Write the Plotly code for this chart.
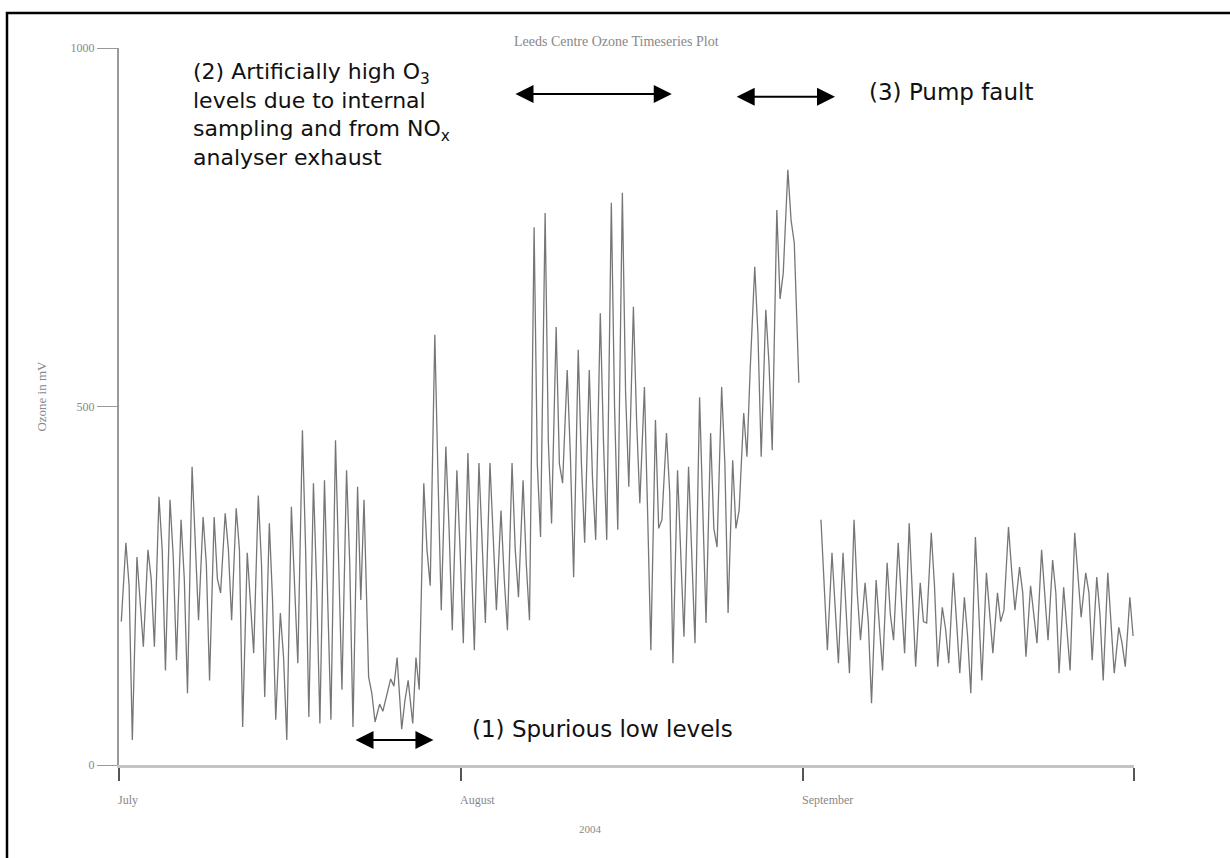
import pandas as pd
import plotly.graph_objects as go

# ---- data (ozone signal in mV, read at ~05:00, ~15:00 and ~22:00 each day, 1 Jul - 30 Sep 2004)
start_date = "2004-07-01"
ozone_am = [200, 35, 165, 165, 132, 146, 100, 202, 118, 240,
            202, 53, 156, 95, 63, 35, 142, 67, 58, 63,
            105, 53, 370, 60, 95, 150, 118, 105, 250, 216,
            188, 170, 160, 198, 216, 188, 234, 202, 318, 337,
            393, 262, 310, 314, 314, 328, 388, 365, 160, 342,
            142, 179, 170, 198, 304, 212, 355, 551, 430, 439,
            686, 728, None, None, 160, 142, 128, 174, 86, 132,
            174, 156, 137, 198, 137, 142, 128, 100, 118, 156,
            216, 216, 151, 170, 174, 128, 132, 206, 146, 118,
            128, 137]
ozone_pm = [310, 290, 300, 374, 370, 342, 416, 346, 346, 351,
            358, 296, 376, 337, 212, 360, 467, 393, 397, 453,
            411, 388, 123, 85, 120, 50, 58, 393, 600, 444,
            411, 435, 421, 421, 355, 421, 397, 750, 770, 611,
            551, 579, 551, 630, 784, 798, 639, 527, 481, 463,
            411, 416, 513, 463, 527, 425, 491, 695, 635, 774,
            830, 533, None, 342, 296, 296, 342, 254, 258, 282,
            310, 337, 254, 324, 220, 268, 234, 318, 268, 240,
            332, 276, 250, 300, 286, 248, 324, 268, 262, 268,
            192, 234]
ozone_night = [250, 230, 260, 300, 290, 260, 300, 280, 260, 300,
               300, 230, 280, 230, 150, 250, 300, 250, 230, 280,
               280, 230, 100, 75, 110, 90, 150, 300, 400, 330,
               300, 310, 300, 320, 260, 300, 280, 420, 450, 420,
               430, 420, 400, 450, 500, 520, 480, 350, 330, 380,
               300, 300, 350, 330, 420, 330, 430, 600, 560, 650,
               760, None, None, 250, 220, 220, 240, 200, 190, 210,
               230, 240, 200, 250, 190, 200, 180, 220, 210, 200,
               270, 240, 210, 240, 240, 190, 260, 240, 210, 200,
               170, 180]
reading_hours = [5, 15, 22]

month_ticks = ["2004-07-01", "2004-08-01", "2004-09-01", "2004-10-01"]
month_labels = ["July", "August", "September"]
y_ticks = [0, 500, 1000]

title_text = "Leeds Centre Ozone Timeseries Plot"
y_title = "Ozone in mV"
x_title = "2004"

# annotation texts with arrow spans (days from 1 July) and levels (mV)
note2 = ("(2) Artificially high O<sub>3</sub><br>levels due to internal<br>"
         "sampling and from NO<sub>x</sub><br>analyser exhaust")
note3 = "(3) Pump fault"
note1 = "(1) Spurious low levels"
arrow2_days = (35.8, 50.1)
arrow3_days = (55.85, 64.9)
arrow1_days = (21.3, 28.5)
arrow2_level = 936
arrow3_level = 932
arrow1_level = 35

# ---- build the time series
base = pd.Timestamp(start_date)
times, values = [], []
for d, readings in enumerate(zip(ozone_am, ozone_pm, ozone_night)):
    for h, v in zip(reading_hours, readings):
        times.append(base + pd.Timedelta(days=d, hours=h))
        values.append(v)


def day(x):
    return base + pd.Timedelta(days=x)


fig = go.Figure()
fig.add_trace(go.Scatter(x=times, y=values, mode="lines",
                         line=dict(color="#767676", width=1.3),
                         connectgaps=False, showlegend=False, hoverinfo="skip"))

serif = "Liberation Serif"
sans = "DejaVu Sans"

fig.update_layout(
    width=1230, height=858,
    margin=dict(l=119, r=96, t=48, b=93),
    paper_bgcolor="white", plot_bgcolor="white",
    showlegend=False,
    xaxis=dict(range=[pd.Timestamp(month_ticks[0]), pd.Timestamp(month_ticks[-1])],
               tickvals=[pd.Timestamp(t) for t in month_ticks], showticklabels=False,
               ticks="outside", ticklen=13, tickwidth=1.5, tickcolor="#555",
               showline=True, linecolor="#c4c4c4", linewidth=3,
               showgrid=False, zeroline=False),
    yaxis=dict(range=[0, 1000], tickvals=y_ticks,
               ticks="outside", ticklen=20, tickwidth=1.2, tickcolor="#999",
               tickfont=dict(family=serif, size=12, color="#888"),
               showline=True, linecolor="#999", linewidth=2,
               showgrid=False, zeroline=False),
)

ann = []
ann.append(dict(text=title_text, xref="paper", yref="paper", x=0.49, y=1.0084,
                xanchor="center", yanchor="middle", showarrow=False,
                font=dict(family=serif, size=14, color="#888")))
ann.append(dict(text=y_title, xref="paper", yref="paper", x=-0.076, y=0.515,
                xanchor="center", yanchor="middle", textangle=-90, showarrow=False,
                font=dict(family=serif, size=13, color="#888")))
ann.append(dict(text=x_title, xref="paper", yref="paper", x=0.465, y=0,
                yshift=-64, xanchor="center", yanchor="middle", showarrow=False,
                font=dict(family=serif, size=11, color="#888")))
for t, lab in zip(month_ticks, month_labels):
    ann.append(dict(text=lab, xref="x", yref="paper", x=pd.Timestamp(t), y=0,
                    yshift=-35, xshift=-3, xanchor="left", yanchor="middle", showarrow=False,
                    font=dict(family=serif, size=12, color="#888")))

# notes
ann.append(dict(text=note2, xref="x", yref="y", x=day(6.5), y=987,
                xanchor="left", yanchor="top", align="left", showarrow=False,
                font=dict(family=sans, size=22, color="#111")))
ann.append(dict(text=note3, xref="x", yref="y", x=day(67.8), y=939,
                xanchor="left", yanchor="middle", align="left", showarrow=False,
                font=dict(family=sans, size=23, color="#111")))
ann.append(dict(text=note1, xref="x", yref="y", x=day(31.8), y=50,
                xanchor="left", yanchor="middle", align="left", showarrow=False,
                font=dict(family=sans, size=23, color="#111")))

for (d0, d1), lvl in [(arrow2_days, arrow2_level), (arrow3_days, arrow3_level),
                      (arrow1_days, arrow1_level)]:
    ann.append(dict(x=day(d1), y=lvl, ax=day(d0), ay=lvl, xref="x", yref="y",
                    axref="x", ayref="y", text="", showarrow=True,
                    arrowhead=2, startarrowhead=2, arrowside="end+start",
                    arrowsize=1.8, startarrowsize=1.8, arrowwidth=2,
                    arrowcolor="black", standoff=0, startstandoff=0))

fig.update_layout(annotations=ann)

# outer frame
fig.add_shape(type="rect", xref="paper", yref="paper",
              x0=(7 - 119) / 1015, x1=1.15, y0=-0.2, y1=(765 - 13) / 717,
              line=dict(color="black", width=2.5), fillcolor="rgba(0,0,0,0)", layer="above")

fig.write_html("out.html")
